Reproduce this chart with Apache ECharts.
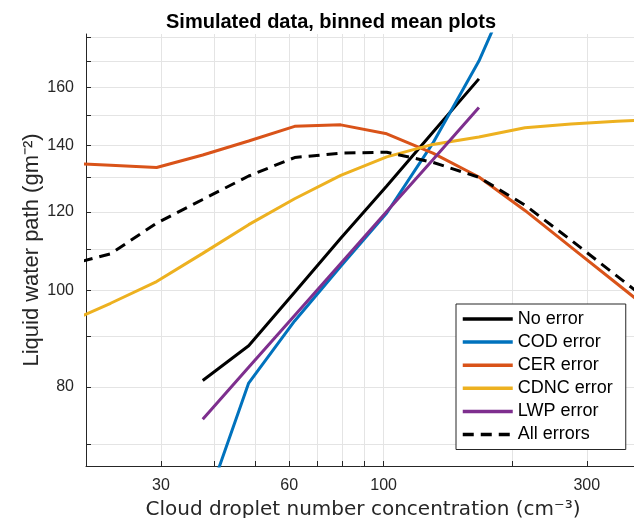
<!DOCTYPE html>
<html>
<head>
<meta charset="utf-8">
<script src="https://cdn.jsdelivr.net/npm/echarts@6/dist/echarts.min.js"></script>
<style>
html,body{margin:0;padding:0;background:#fff;}
#chart{width:634px;height:518px;}
</style>
</head>
<body>
<div id="chart"></div>
<script>
// Bin centres (cloud droplet number concentration, cm^-3)
const cdncBins = [17.8, 22.85, 29.3, 37.6, 48.2, 61.8, 79.3, 101.7, 130.5, 167.4, 214.7, 275.4, 353.3, 453.1];
// Binned mean liquid water path (g m^-2) for each case
const noError   = [null, null, null, 81.2, 88.0, 99.6, 112.9, 127.4, 144.3, 163.3, null, null, null, null];
const codError  = [null, null, null, 59.6, 80.7, 93.2, 105.8, 119.7, 140.7, 170.2, 216.6, null, null, null];
const cerError  = [134.4, 133.7, 133.0, 136.9, 141.4, 146.3, 146.8, 143.8, 137.5, 130.1, 120.4, 110.6, 101.6, 93.3];
const cdncError = [92.6, 97.1, 102.1, 109.0, 116.5, 123.7, 130.6, 136.3, 140.3, 142.7, 145.8, 147.1, 148.0, 148.7];
const lwpError  = [null, null, null, 74.2, 83.7, 94.4, 106.5, 120.1, 135.4, 152.8, null, null, null, null];
const allErrors = [105.9, 108.9, 116.9, 123.5, 130.4, 136.1, 137.5, 137.8, 134.6, 130.0, 121.9, 112.4, 103.4, 95.1];

const seriesNames = ['No error', 'COD error', 'CER error', 'CDNC error', 'LWP error', 'All errors'];
const seriesValues = [noError, codError, cerError, cdncError, lwpError, allErrors];

// Axis ticks (log axes)
const xRange = [20, 400];
const yRange = [66.6, 181.2];
const xTicks = [20, 30, 40, 50, 60, 70, 80, 90, 100, 200, 300, 400];
const xTickLabels = [30, 60, 100, 300];
const yTicks = [70, 80, 90, 100, 110, 120, 130, 140, 150, 160, 170, 180];
const yTickLabels = [80, 100, 120, 140, 160];

const colors = ['#000000', '#0072BD', '#D95319', '#EDB120', '#7E2F8E', '#000000'];
const lg = Math.log10;

function pairs(vals) {
  const out = [];
  vals.forEach((v, i) => { if (v !== null) out.push([lg(cdncBins[i]), lg(v)]); });
  return out;
}
const fmt = v => String(Math.round(Math.pow(10, v)));
const axisColor = '#262626';
const gridColor = '#e4e4e4';

const chart = echarts.init(document.getElementById('chart'), null, {renderer: 'canvas'});
chart.setOption({
  animation: false,
  backgroundColor: '#ffffff',
  title: {
    text: 'Simulated data, binned mean plots',
    left: 161, top: 7,
    textStyle: {fontFamily: 'Liberation Sans', fontWeight: 'bold', fontSize: 20, color: '#000'}
  },
  grid: {left: 86, right: -6, top: 34, bottom: 52, containLabel: false, outerBoundsMode: 'none'},
  legend: {
    orient: 'vertical',
    left: 456, top: 304,
    data: seriesNames,
    itemWidth: 50, itemHeight: 2, itemGap: 3.1,
    padding: [5, 13, 5, 5],
    backgroundColor: '#fff',
    borderColor: axisColor, borderWidth: 1, borderRadius: 0,
    itemStyle: {opacity: 0},
    lineStyle: {width: 3.5},
    textStyle: {fontFamily: 'Liberation Sans', fontSize: 18, lineHeight: 20, color: '#000'}
  },
  xAxis: {
    type: 'value',
    min: lg(xRange[0]), max: lg(xRange[1]),
    name: 'Cloud droplet number concentration (cm⁻³)',
    nameLocation: 'middle', nameGap: 34, nameMoveOverlap: false,
    nameTextStyle: {fontFamily: 'DejaVu Sans', fontSize: 20, color: axisColor},
    axisLine: {show: true, onZero: false, lineStyle: {color: axisColor, width: 1}},
    axisTick: {show: true, inside: true, length: 5, customValues: xTicks.map(lg), lineStyle: {color: axisColor}},
    axisLabel: {customValues: xTickLabels.map(lg), formatter: fmt, margin: 12,
      fontFamily: 'Liberation Sans', fontSize: 16, color: axisColor},
    splitLine: {show: true, lineStyle: {color: gridColor, width: 1}}
  },
  yAxis: {
    type: 'value',
    min: lg(yRange[0]), max: lg(yRange[1]),
    name: 'Liquid water path (gm⁻²)',
    nameLocation: 'middle', nameGap: 43, nameRotate: 90, nameMoveOverlap: false,
    nameTextStyle: {fontFamily: 'Liberation Sans', fontSize: 22, color: axisColor},
    axisLine: {show: true, onZero: false, lineStyle: {color: axisColor, width: 1}},
    axisTick: {show: true, inside: true, length: 5, customValues: yTicks.map(lg), lineStyle: {color: axisColor}},
    axisLabel: {customValues: yTickLabels.map(lg), formatter: fmt, margin: 12,
      fontFamily: 'Liberation Sans', fontSize: 16, color: axisColor},
    splitLine: {show: true, lineStyle: {color: gridColor, width: 1}}
  },
  series: seriesNames.map((name, i) => ({
    name: name,
    type: 'line',
    data: pairs(seriesValues[i]),
    symbol: 'none',
    showSymbol: false,
    clip: true,
    color: colors[i],
    lineStyle: {color: colors[i], width: 3, type: name === 'All errors' ? [11, 7] : 'solid'},
    emphasis: {disabled: true},
    z: 2 + i
  }))
});
</script>
</body>
</html>
